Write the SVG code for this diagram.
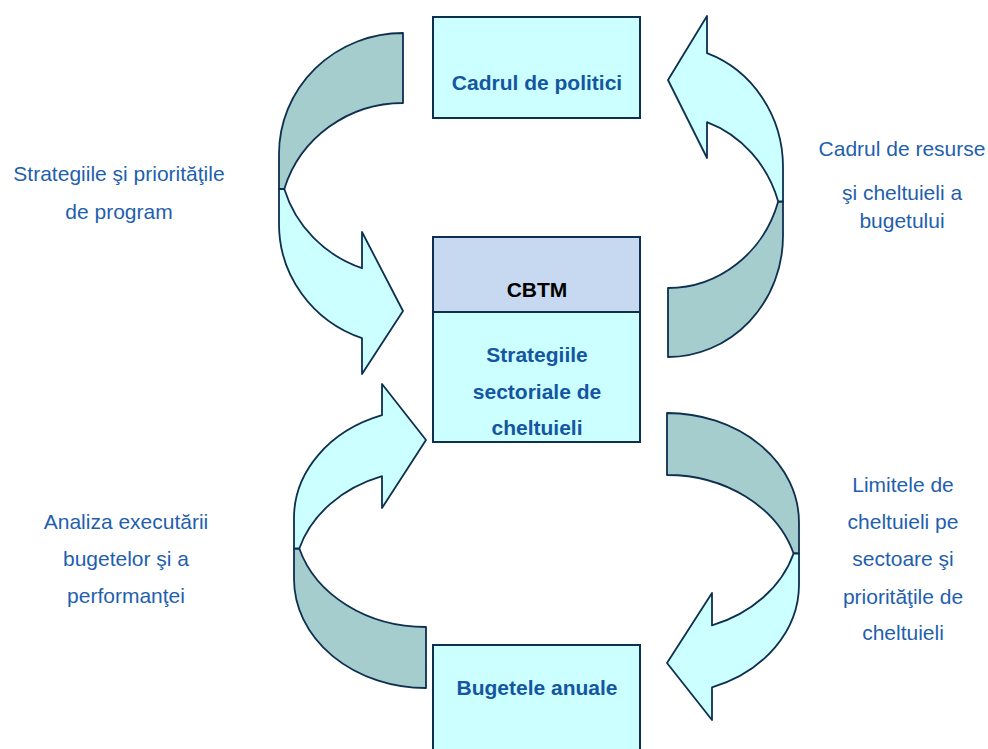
<svg xmlns="http://www.w3.org/2000/svg" width="988" height="749" viewBox="0 0 988 749">
<style>
.box{fill:#CCFFFF;stroke:#0E2F50;stroke-width:2}
.hdr{fill:#C6D9F0;stroke:#0E2F50;stroke-width:2}
.back{fill:#A6CDCD;stroke:#0E2F50;stroke-width:1.8;stroke-linejoin:round}
.front{fill:#CCFFFF;stroke:#0E2F50;stroke-width:1.8;stroke-linejoin:round}
.lbl{font-family:"Liberation Sans",Arial,sans-serif;font-size:21px;fill:#1F5FAE;text-anchor:middle}
.bt{font-family:"Liberation Sans",Arial,sans-serif;font-size:21px;font-weight:bold;fill:#1456A0;text-anchor:middle}
.bk{font-family:"Liberation Sans",Arial,sans-serif;font-size:21px;font-weight:bold;fill:#000000;text-anchor:middle}
</style>
<rect width="988" height="749" fill="#FFFFFF"/>
<g id="connectors">
  <g id="arrow-strategii">
    <path class="back" d="M403,33 A124,121 0 0 0 279,154 L279,189 L284.3,189 A124,121 0 0 1 403,103 Z"/>
    <path class="front" d="M284.3,189 A124,121 0 0 0 362,268.2 L362,232 L403,311 L362,374 L362,338.2 A124,121 0 0 1 279,224 L279,189 Z"/>
  </g>
  <g id="arrow-resurse">
    <path class="back" d="M668,357 A115,121 0 0 0 783,236 L783,201.5 L778.2,201.5 A115,121 0 0 1 668,288 Z"/>
    <path class="front" d="M778.2,201.5 A115,121 0 0 0 707,122.2 L707,158 L668,80 L707,16 L707,53.2 A115,121 0 0 1 783,167 L783,201.5 Z"/>
  </g>
  <g id="arrow-analiza">
    <path class="back" d="M426,688 A132,109 0 0 1 294,579 L294,548.5 L299.3,548.5 A132,109 0 0 0 426,627 Z"/>
    <path class="front" d="M299.3,548.5 A132,109 0 0 1 382,476.2 L382,508 L426,440 L382,384 L382,415.2 A132,109 0 0 0 294,518 L294,548.5 Z"/>
  </g>
  <g id="arrow-limite">
    <path class="back" d="M667,413 A132,109.5 0 0 1 799,522.5 L799,553.5 L793.6,553.5 A132,109.5 0 0 0 667,475 Z"/>
    <path class="front" d="M793.6,553.5 A132,109.5 0 0 1 712,625.4 L712,593 L667,663 L712,720 L712,687.4 A132,109.5 0 0 0 799,584.5 L799,553.5 Z"/>
  </g>
</g>
<g id="node-politici">
  <rect class="box" x="433" y="17" width="207" height="101"/>
  <text class="bt" x="537" y="90">Cadrul de politici</text>
</g>
<g id="node-cbtm">
  <rect class="hdr" x="433" y="237" width="207" height="75"/>
  <rect class="box" x="433" y="312" width="207" height="130"/>
  <text class="bk" x="537" y="297">CBTM</text>
  <text class="bt" x="537" y="362">Strategiile</text>
  <text class="bt" x="537" y="399">sectoriale de</text>
  <text class="bt" x="537" y="435">cheltuieli</text>
</g>
<g id="node-bugete">
  <rect class="box" x="433" y="645" width="207" height="115"/>
  <text class="bt" x="537" y="695">Bugetele anuale</text>
</g>
<g id="label-strategii">
  <text class="lbl" x="119" y="181">Strategiile şi priorităţile</text>
  <text class="lbl" x="119" y="219">de program</text>
</g>
<g id="label-resurse">
  <text class="lbl" x="902" y="156">Cadrul de resurse</text>
  <text class="lbl" x="902" y="200">şi cheltuieli a</text>
  <text class="lbl" x="902" y="228">bugetului</text>
</g>
<g id="label-analiza">
  <text class="lbl" x="126" y="529">Analiza executării</text>
  <text class="lbl" x="126" y="566">bugetelor şi a</text>
  <text class="lbl" x="126" y="603">performanţei</text>
</g>
<g id="label-limite">
  <text class="lbl" x="903" y="492">Limitele de</text>
  <text class="lbl" x="903" y="529">cheltuieli pe</text>
  <text class="lbl" x="903" y="566">sectoare şi</text>
  <text class="lbl" x="903" y="604">priorităţile de</text>
  <text class="lbl" x="903" y="640">cheltuieli</text>
</g>
</svg>
